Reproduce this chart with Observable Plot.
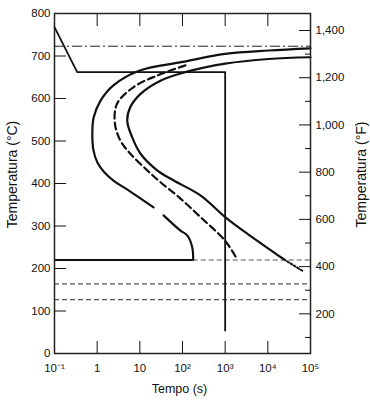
<!DOCTYPE html>
<html><head><meta charset="utf-8">
<script src="https://cdn.jsdelivr.net/npm/d3@7"></script>
<script src="https://cdn.jsdelivr.net/npm/@observablehq/plot@0.6"></script>
<style>body{margin:0;background:#fff}svg{display:block}</style>
</head><body><div id="chart"></div>
<script>
// Axis ticks and labels
const yTicksC = [0,100,200,300,400,500,600,700,800];
const fTicksMajor = [200,400,600,800,1000,1200,1400];
const fTickLabels = ["200","400","600","800","1,000","1,200","1,400"];
const fTicksMinor = [100,300,500,700,900,1100,1300];
const xTicks = [0.1,1,10,100,1000,10000,100000];
const xTickLabels = ["10\u207B\u00B9","1","10","10\u00B2","10\u00B3","10\u2074","10\u2075"];

// Reference temperatures (°C)
const a1Temp = 723;
const msTemp = 220;
const msStartTime = 178;
const lowDashedTemps = [164, 127];

// Cooling path (time s, temp °C)
const coolTime = [0.1, 0.34, 1000, 1000];
const coolTemp = [768, 662, 662, 54];

// Transformation start curve (outer, solid)
const startTime = [100000, 10500, 1000, 100, 10, 2.4, 1.2, 0.83, 0.77, 0.82, 1.02, 1.49, 2.41, 6.0, 21, NaN, 36, 90, 129, 169, 178];
const startTemp = [718, 713, 705, 686, 666, 631, 595, 556, 520, 478, 449, 426, 407, 381, 344, NaN, 325, 289, 278, 250, 220];

// 50% curve (dashed)
const midTime = [117, 25.5, 7.2, 2.94, 2.6, 3.5, 6.0, 14.9, 30.5, 82, 263, 1000, 1900];
const midTemp = [678, 654, 627, 588, 542, 501, 470, 431, 403, 368, 321, 265, 222];

// Transformation finish curve (inner, solid) + dotted tail
const finishTime = [100000, 10500, 1000, 117, 30.5, 10.4, 6.0, 5.06, 6.6, 10.4, 25.5, 62.5, 263, 1000, 3280, 19800, 23400];
const finishTemp = [697, 693, 682, 662, 642, 611, 580, 548, 509, 470, 431, 407, 372, 321, 282, 227, 222];
const tailTime = [23400, 68400];
const tailTemp = [222, 193];

const pts = (ts, Ts) => ts.map((t, i) => ({t, T: Ts[i]}));
const f2c = f => (f - 32) * 5 / 9;

const chart = Plot.plot({
  width: 370, height: 400,
  marginTop: 13, marginBottom: 47, marginLeft: 54, marginRight: 60,
  x: {type: "log", domain: [0.1, 100000]},
  y: {domain: [0, 800]},
  style: {fontFamily: "'Liberation Sans', Arial, sans-serif", fontSize: "11.5px", color: "#111", background: "#fff"},
  marks: [
    Plot.ruleY([a1Temp], {stroke: "#222", strokeWidth: 1, strokeDasharray: "10,3,2,3"}),
    Plot.ruleY(lowDashedTemps, {stroke: "#555", strokeWidth: 1.2, strokeDasharray: "5,3"}),
    Plot.ruleY([{y: msTemp, x1: 0.1, x2: msStartTime}], {y: "y", x1: "x1", x2: "x2", stroke: "#111", strokeWidth: 2}),
    Plot.ruleY([{y: msTemp, x1: msStartTime, x2: 100000}], {y: "y", x1: "x1", x2: "x2", stroke: "#555", strokeWidth: 1.2, strokeDasharray: "5,3"}),
    Plot.line(pts(coolTime, coolTemp), {x: "t", y: "T", stroke: "#111", strokeWidth: 1.8}),
    Plot.line(pts(startTime, startTemp), {x: "t", y: "T", stroke: "#111", strokeWidth: 2.2, curve: "catmull-rom"}),
    Plot.line(pts(midTime, midTemp), {x: "t", y: "T", stroke: "#111", strokeWidth: 2.2, strokeDasharray: "7,4", curve: "catmull-rom"}),
    Plot.line(pts(finishTime, finishTemp), {x: "t", y: "T", stroke: "#111", strokeWidth: 2.2, curve: "catmull-rom"}),
    Plot.line(pts(tailTime, tailTemp), {x: "t", y: "T", stroke: "#111", strokeWidth: 2, strokeDasharray: "2,2"}),
    Plot.frame({stroke: "#222", strokeWidth: 1.5}),
    // inward ticks
    Plot.axisY(yTicksC.slice(1, -1), {anchor: "left", tickSize: -12, tickFormat: () => "", label: null}),
    Plot.axisY(fTicksMajor.map(f2c), {anchor: "right", tickSize: -12, tickFormat: () => "", label: null}),
    Plot.axisY(fTicksMinor.map(f2c), {anchor: "right", tickSize: -6, tickFormat: () => "", label: null}),
    Plot.axisX(xTicks.slice(1, -1), {anchor: "bottom", tickSize: -12, tickFormat: () => "", label: null}),
    Plot.axisX(xTicks.slice(1, -1), {anchor: "top", tickSize: -12, tickFormat: () => "", label: null}),
    // tick labels
    Plot.axisY(yTicksC, {anchor: "left", tickSize: 0, tickPadding: 4, label: null}),
    Plot.axisY(fTicksMajor.map(f2c), {anchor: "right", tickSize: 0, tickPadding: 5, label: null,
      tickFormat: d => fTickLabels[fTicksMajor.indexOf(Math.round(d * 9 / 5 + 32))]}),
    Plot.axisX(xTicks, {anchor: "bottom", tickSize: 0, tickPadding: 10, label: null,
      tickFormat: d => xTickLabels[xTicks.indexOf(d)]}),
    // axis titles
    Plot.text(["Temperatura (\u00B0C)"], {text: d => d, frameAnchor: "left", textAnchor: "middle", rotate: -90, dx: -42, dy: -9, fontSize: 14}),
    Plot.text(["Temperatura (\u00B0F)"], {text: d => d, frameAnchor: "right", textAnchor: "middle", rotate: -90, dx: 51, dy: -9, fontSize: 14}),
    Plot.text(["Tempo (s)"], {text: d => d, frameAnchor: "bottom", textAnchor: "middle", lineAnchor: "middle", dx: -3, dy: 35, fontSize: 12.5})
  ]
});
document.getElementById("chart").append(chart);
</script>
</body></html>
